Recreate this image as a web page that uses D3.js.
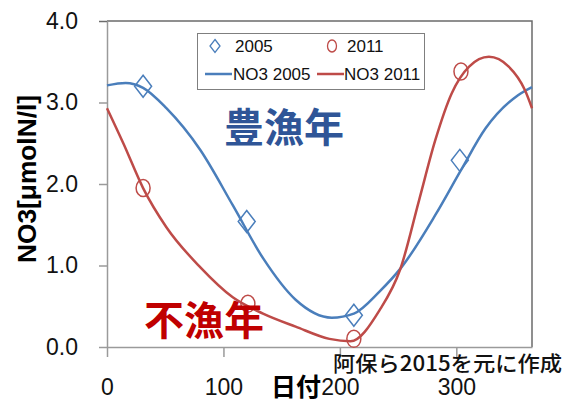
<!DOCTYPE html>
<html>
<head>
<meta charset="utf-8">
<script src="https://cdn.jsdelivr.net/npm/d3@7"></script>
<style>
	body { margin: 0; background: #fff; }
	svg { display: block; }
</style>
</head>
<body>
<svg id="chart" width="568" height="402"></svg>
<script>
// observed points
var obsDays2005 = [31, 120, 212, 303];
var obsVals2005 = [3.20, 1.54, 0.39, 2.29];
var obsDays2011 = [31, 121, 212, 304];
var obsVals2011 = [1.95, 0.53, 0.10, 3.38];

// fitted curves
var fitDays2005 = [0, 16, 31, 51, 80, 108, 134, 162, 193, 212, 234, 253, 282, 304, 325, 353, 365];
var fitVals2005 = [3.21, 3.24, 3.18, 2.93, 2.42, 1.74, 1.09, 0.58, 0.36, 0.41, 0.68, 0.98, 1.62, 2.17, 2.68, 3.09, 3.19];
var fitDays2011 = [0, 14, 31, 51, 80, 108, 134, 162, 191, 209, 234, 252, 268, 282, 296, 311, 328, 345, 359, 365];
var fitVals2011 = [2.93, 2.50, 1.95, 1.47, 0.98, 0.61, 0.41, 0.25, 0.10, 0.07, 0.45, 0.96, 1.80, 2.54, 3.11, 3.44, 3.56, 3.44, 3.15, 2.93];

var xTicks = [0, 100, 200, 300];
var yTicks = [0, 1, 2, 3, 4];

var blue = '#4a7ebb', red = '#be4b48';
var latin = '"Liberation Sans", Arial, sans-serif';
var cjk = '"Noto Sans CJK JP", "Noto Sans", sans-serif';

var svg = d3.select('#chart');

var x = d3.scaleLinear().domain([0, 365]).range([107, 532]);
var y = d3.scaleLinear().domain([0, 4]).range([347, 21]);

// plot frame (top + right)
svg.append('path')
	.attr('d', 'M' + x(0) + ',' + y(4) + 'H' + x(365) + 'V' + y(0))
	.attr('fill', 'none')
	.attr('stroke', '#6b6b6b')
	.attr('stroke-width', 1.5);

var yAxis = svg.append('g')
	.attr('transform', 'translate(' + x(0) + ',0)')
	.call(d3.axisLeft(y).tickValues(yTicks).tickFormat(d3.format('.1f')).tickSize(8).tickSizeOuter(0).tickPadding(21));

var xAxis = svg.append('g')
	.attr('transform', 'translate(0,' + y(0) + ')')
	.call(d3.axisBottom(x).tickValues(xTicks).tickSize(10).tickSizeOuter(0).tickPadding(22));

[yAxis, xAxis].forEach(function (a) {
	a.select('.domain').attr('stroke', '#9a9a9a').attr('stroke-width', 1.5);
	a.selectAll('.tick line').attr('stroke', '#9a9a9a').attr('stroke-width', 1.5);
	a.selectAll('.tick text')
		.attr('fill', '#111')
		.style('font-family', latin)
		.style('font-size', '23px');
});
yAxis.select('.tick:last-of-type line').attr('stroke', '#6b6b6b');

// curves
var line = d3.line()
	.x(function (d) { return x(d[0]); })
	.y(function (d) { return y(d[1]); })
	.curve(d3.curveMonotoneX);

svg.append('path')
	.datum(d3.zip(fitDays2005, fitVals2005))
	.attr('fill', 'none')
	.attr('stroke', blue)
	.attr('stroke-width', 2.5)
	.attr('d', line);

svg.append('path')
	.datum(d3.zip(fitDays2011, fitVals2011))
	.attr('fill', 'none')
	.attr('stroke', red)
	.attr('stroke-width', 2.5)
	.attr('d', line);

// markers
function diamond(w, h) {
	return 'M0,' + (-h) + 'L' + w + ',0L0,' + h + 'L' + (-w) + ',0Z';
}

svg.append('g').selectAll('path')
	.data(d3.zip(obsDays2005, obsVals2005))
	.join('path')
	.attr('transform', function (d) { return 'translate(' + x(d[0]) + ',' + y(d[1]) + ')'; })
	.attr('d', diamond(8.5, 11))
	.attr('fill', 'none')
	.attr('stroke', blue)
	.attr('stroke-width', 1.5);

svg.append('g').selectAll('ellipse')
	.data(d3.zip(obsDays2011, obsVals2011))
	.join('ellipse')
	.attr('cx', function (d) { return x(d[0]); })
	.attr('cy', function (d) { return y(d[1]); })
	.attr('rx', 7)
	.attr('ry', 8.5)
	.attr('fill', 'none')
	.attr('stroke', red)
	.attr('stroke-width', 1.5);

// legend
var lg = svg.append('g');
lg.append('rect')
	.attr('x', 197.5).attr('y', 33.5)
	.attr('width', 227).attr('height', 56)
	.attr('fill', '#fff')
	.attr('stroke', '#7f7f7f');

lg.append('path')
	.attr('transform', 'translate(215,46)')
	.attr('d', diamond(5, 6.5))
	.attr('fill', 'none').attr('stroke', blue).attr('stroke-width', 1.3);
lg.append('ellipse')
	.attr('cx', 332).attr('cy', 46).attr('rx', 4.5).attr('ry', 6)
	.attr('fill', 'none').attr('stroke', red).attr('stroke-width', 1.3);
lg.append('line').attr('x1', 205).attr('x2', 232).attr('y1', 74).attr('y2', 74)
	.attr('stroke', blue).attr('stroke-width', 2.5);
lg.append('line').attr('x1', 317).attr('x2', 344).attr('y1', 74).attr('y2', 74)
	.attr('stroke', red).attr('stroke-width', 2.5);

var legendText = [[235, 52, '2005'], [347, 52, '2011'], [233, 80, 'NO3 2005'], [344, 80, 'NO3 2011']];
lg.selectAll('text.lt')
	.data(legendText)
	.join('text')
	.attr('class', 'lt')
	.attr('x', function (d) { return d[0]; })
	.attr('y', function (d) { return d[1]; })
	.style('font-family', latin)
	.style('font-size', '17px')
	.attr('fill', '#111')
	.text(function (d) { return d[2]; });

// annotations
svg.append('text')
	.attr('x', 224).attr('y', 142)
	.style('font-family', cjk).style('font-size', '40px').style('font-weight', 'bold')
	.attr('fill', '#2f5597')
	.text('豊漁年');

svg.append('text')
	.attr('x', 144).attr('y', 335)
	.style('font-family', cjk).style('font-size', '40px').style('font-weight', 'bold')
	.attr('fill', '#c00000')
	.text('不漁年');

svg.append('text')
	.attr('x', 333).attr('y', 371)
	.attr('textLength', 229).attr('lengthAdjust', 'spacingAndGlyphs')
	.style('font-family', cjk).style('font-size', '21px').style('font-weight', 500)
	.attr('fill', '#111')
	.text('阿保ら2015を元に作成');

// axis titles
svg.append('text')
	.attr('x', 271).attr('y', 396)
	.style('font-family', cjk).style('font-size', '25px').style('font-weight', 'bold')
	.attr('fill', '#000')
	.text('日付');

svg.append('text')
	.attr('transform', 'translate(36,179) rotate(-90)')
	.attr('text-anchor', 'middle')
	.attr('textLength', 168).attr('lengthAdjust', 'spacingAndGlyphs')
	.style('font-family', latin).style('font-size', '26px').style('font-weight', 'bold')
	.attr('fill', '#000')
	.text('NO3[μmolN/l]');
</script>
</body>
</html>
